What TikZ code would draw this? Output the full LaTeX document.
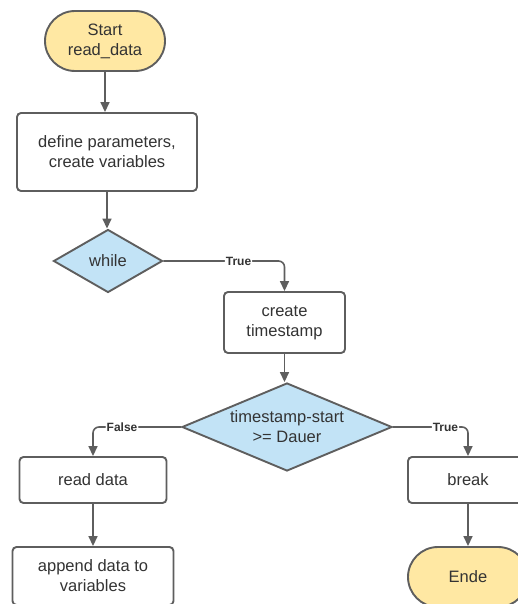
\documentclass[tikz,border=0pt]{standalone}
\usepackage{fontspec}
\setmainfont{Liberation Sans}
\usetikzlibrary{shapes.geometric,shapes.misc,arrows.meta}
\definecolor{edge}{HTML}{5E5E5E}
\definecolor{ink}{HTML}{333333}
\definecolor{termfill}{HTML}{FFE8A3}
\definecolor{decfill}{HTML}{C2E3F6}

\begin{document}
\begin{tikzpicture}[x=1pt,y=-1pt,
  base/.style={draw=edge, line width=1.9pt, text=ink,
    font=\fontsize{16.5}{20}\selectfont, align=center, inner sep=0pt},
  terminal/.style={base, rounded rectangle, fill=termfill,
    minimum width=120pt, minimum height=60pt},
  process/.style={base, rectangle, rounded corners=4pt, fill=white},
  decision/.style={base, diamond, fill=decfill},
  flow/.style={draw=edge, line width=1.6pt, -{Triangle[length=10pt,width=9pt]}},
  branch/.style={flow, rounded corners=6pt},
  tag/.style={fill=white, text=ink, font=\bfseries\fontsize{12}{14}\selectfont, inner sep=1pt}]

\useasboundingbox (0,0) rectangle (518,604);
\clip (0,0) rectangle (518,604);

% nodes
\node[terminal] (start) at (105,41) {Start\\read\_data};
\node[process, minimum width=180pt, minimum height=78pt] (params) at (107,152)
  {define parameters,\\create variables};
\node[decision, aspect=1.73, minimum width=109pt, minimum height=63pt] (loop) at (108,261) {while};
\node[process, minimum width=121pt, minimum height=61pt] (stamp) at (284.5,322.5)
  {create\\timestamp};
\node[decision, aspect=2.39, minimum width=210pt, minimum height=88pt] (check) at (287,427)
  {timestamp-start\\>= Dauer};
\node[process, minimum width=147pt, minimum height=46pt] (read) at (93,480) {read data};
\node[process, minimum width=161pt, minimum height=58pt] (append) at (93,576)
  {append data to\\variables};
\node[process, minimum width=120pt, minimum height=46pt] (brk) at (468,480) {break};
\node[terminal] (stop) at (468,577) {Ende};

% connectors
\draw[flow] (start.south) -- (start.south |- params.north);
\draw[flow] (params.south) -- (params.south |- loop.north);
\draw[branch] (loop.east) -| node[tag, pos=0.31] {True} (stamp.north);
\draw[flow] (stamp.south) -- (stamp.south |- check.north);
\draw[branch] (check.west) -| node[tag, pos=0.335] {False} (read.north);
\draw[branch] (check.east) -| node[tag, pos=0.35] {True} (brk.north);
\draw[flow] (read.south) -- (append.north);
\draw[flow] (brk.south) -- (stop.north);
\end{tikzpicture}
\end{document}
